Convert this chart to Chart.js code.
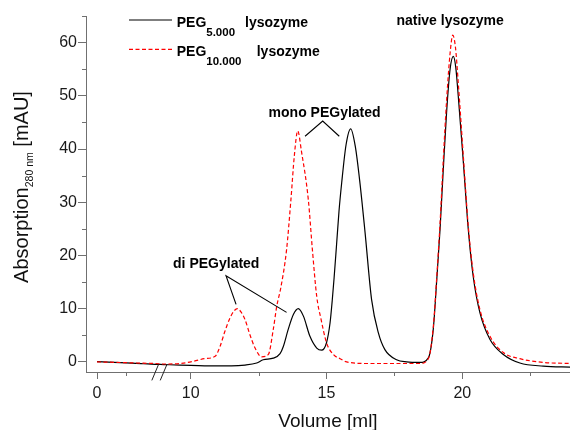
<!DOCTYPE html>
<html>
<head>
<meta charset="utf-8">
<script src="https://cdn.jsdelivr.net/npm/chart.js@4.4.0/dist/chart.umd.min.js"></script>
<style>
  body { margin: 0; background: #fff; }
  #wrap { width: 570px; height: 430px; }
</style>
</head>
<body>
<div id="wrap"><canvas id="chromChart"></canvas></div>
<script>
// elution volume [ml] / absorption [mAU]
var volPeg5 = [0, 1, 2.5, 4, 5, 9, 9.6, 10, 11, 11.5, 12, 12.43, 12.67, 13.04, 13.29, 13.41, 13.59, 13.78, 13.96, 14.15,
  14.39, 14.64, 14.82, 15.0, 15.13, 15.21, 15.28, 15.37, 15.46, 15.56, 15.72, 15.89, 16.06, 16.23, 16.42, 16.66, 16.91, 17.15, 17.58, 17.95, 18.44,
  18.75, 18.93, 19.06, 19.18, 19.3, 19.42, 19.55, 19.67, 19.76, 19.85, 20.04, 20.22, 20.4, 20.65, 21.02, 21.51, 22.12, 22.98, 24];
var absPeg5 = [0.05, -0.05, -0.2, -0.35, -0.45, -0.5, -0.6, -0.65, -0.75, -0.75, -0.6, -0.2, 0.4, 0.7, 1.55, 2.9, 6.1, 8.9, 10.0, 8.6,
  4.8, 2.6, 2.2, 3.6, 7.3, 11.5, 15.8, 22.0, 28.3, 33.7, 40.8, 43.8, 40.5, 33.7, 24.3, 11.7, 5.45, 2.3, 0.4, 0, -0.1,
  0.75, 6.1, 15.5, 24.9, 36.2, 46.8, 55, 57.4, 55.3, 50.0, 37.4, 24.9, 16.1, 9.2, 4.2, 1.4, -0.2, -0.8, -1.0];

var volPeg10 = [0, 1, 2.5, 4, 5, 9, 9.6, 10.1, 10.5, 10.9, 11.08, 11.26, 11.45, 11.6, 11.72, 11.85, 12.0, 12.18, 12.37, 12.61,
  12.86, 13.04, 13.17, 13.32, 13.53, 13.69, 13.82, 13.94, 14.08, 14.33, 14.48, 14.64, 14.8, 15.0, 15.25, 15.5, 15.74, 16.5, 17.5, 18.44,
  18.75, 18.93, 19.06, 19.18, 19.3, 19.42, 19.55, 19.65, 19.75, 19.85, 20.04, 20.22, 20.4, 20.65, 21.02, 21.51, 22.12, 22.98, 24];
var absPeg10 = [0, -0.05, -0.15, -0.25, -0.3, -0.4, -0.3, 0.1, 0.6, 1.05, 2.9, 5.75, 8.3, 9.6, 10.0, 9.4, 7.95, 5.1, 2.6, 0.95,
  1.4, 6.1, 10.5, 14.0, 21.1, 30.5, 39.0, 43.4, 39.5, 30.5, 21.1, 12.3, 8.0, 3.6, 1.4, 0.6, 0, -0.3, -0.3, -0.3,
  0.6, 6.5, 16.0, 26.0, 38.0, 49.0, 58.0, 61.4, 59.0, 52.5, 38.5, 25.5, 16.8, 9.8, 4.8, 1.75, 0.6, -0.1, -0.3];

// ticks
var xTickVolumes = [0, 10, 15, 20];
var xTickLabels = ['0', '10', '15', '20'];
var xMinorVolumes = [2.5, 12.5, 17.5, 22.5];
var yTicks = [0, 10, 20, 30, 40, 50, 60];
var yMinorTicks = [5, 15, 25, 35, 45, 55, 65];

// broken x axis: 0..5 ml squeezed in front of the 9..24 ml part
var LEFT_END = 5, RIGHT_START = 9;
var LEFT_AXIS_ZERO = 6.55, LEFT_FACTOR = 0.428;
function toAxis(v) { return v <= LEFT_END ? LEFT_AXIS_ZERO + v * LEFT_FACTOR : v; }

function points(vols, vals) {
  return vols.map(function (v, i) { return { x: toAxis(v), y: vals[i] }; });
}

// annotations (data coords)
var notes = [
  { text: 'di PEGylated', x: 10.94, y: 17.7 },
  { text: 'mono PEGylated', x: 14.93, y: 46.1 },
  { text: 'native lysozyme', x: 19.55, y: 63.4 }
];
var leaders = [
  [[11.67, 10.8], [11.3, 16.2], [13.53, 9.3]],
  [[14.21, 42.4], [14.86, 45.25], [15.47, 42.4]]
];

var AXIS_GREY = '#707070';
var FONT = 'Liberation Sans, Arial, sans-serif';

function drawParts(ctx, parts, x, y) {
  parts.forEach(function (p) {
    ctx.font = (p.bold ? 'bold ' : '') + p.size + 'px ' + FONT;
    ctx.fillText(p.t, x, y + (p.dy || 0));
    x += ctx.measureText(p.t).width;
  });
}

var decorPlugin = {
  id: 'decor',
  afterDraw: function (chart) {
    var ctx = chart.ctx, xs = chart.scales.x, ys = chart.scales.y, area = chart.chartArea;
    ctx.save();

    // minor ticks
    ctx.strokeStyle = AXIS_GREY;
    ctx.lineWidth = 1;
    ctx.beginPath();
    xMinorVolumes.forEach(function (v) {
      var px = Math.round(xs.getPixelForValue(toAxis(v))) + 0.5;
      ctx.moveTo(px, area.bottom);
      ctx.lineTo(px, area.bottom + 4);
    });
    yMinorTicks.forEach(function (v) {
      var py = Math.round(ys.getPixelForValue(v)) + 0.5;
      ctx.moveTo(area.left - 4, py);
      ctx.lineTo(area.left, py);
    });
    ctx.stroke();

    // axis break //
    var cx = (xs.getPixelForValue(toAxis(LEFT_END)) + xs.getPixelForValue(RIGHT_START)) / 2;
    ctx.strokeStyle = '#222';
    ctx.beginPath();
    [-4.2, 4.2].forEach(function (off) {
      ctx.moveTo(cx + off - 3.3, area.bottom + 8.4);
      ctx.lineTo(cx + off + 3.3, area.bottom - 7.3);
    });
    ctx.stroke();

    // leader lines + labels
    ctx.strokeStyle = '#000';
    ctx.lineWidth = 1.1;
    leaders.forEach(function (l) {
      ctx.beginPath();
      l.forEach(function (p, i) {
        var px = xs.getPixelForValue(p[0]), py = ys.getPixelForValue(p[1]);
        if (i === 0) ctx.moveTo(px, py); else ctx.lineTo(px, py);
      });
      ctx.stroke();
    });
    ctx.fillStyle = '#000';
    ctx.textAlign = 'center';
    ctx.textBaseline = 'alphabetic';
    ctx.font = 'bold 14px ' + FONT;
    notes.forEach(function (n) {
      ctx.fillText(n.text, xs.getPixelForValue(n.x), ys.getPixelForValue(n.y));
    });

    // legend
    ctx.textAlign = 'left';
    ctx.lineWidth = 1.2;
    ctx.strokeStyle = '#000';
    ctx.beginPath(); ctx.moveTo(129, 20); ctx.lineTo(172, 20); ctx.stroke();
    ctx.strokeStyle = '#ff0000';
    ctx.setLineDash([4, 2.5]);
    ctx.beginPath(); ctx.moveTo(129, 49.3); ctx.lineTo(172, 49.3); ctx.stroke();
    ctx.setLineDash([]);
    drawParts(ctx, [{ t: 'PEG', size: 14, bold: true }, { t: '5.000', size: 11.5, bold: true, dy: 9 }], 176.7, 26.7);
    drawParts(ctx, [{ t: 'lysozyme', size: 14, bold: true }], 245, 26.7);
    drawParts(ctx, [{ t: 'PEG', size: 14, bold: true }, { t: '10.000', size: 11.5, bold: true, dy: 9 }], 176.7, 56);
    drawParts(ctx, [{ t: 'lysozyme', size: 14, bold: true }], 256.7, 56);

    // axis titles
    ctx.fillStyle = '#111';
    ctx.font = '19px ' + FONT;
    ctx.textAlign = 'center';
    ctx.fillText('Volume [ml]', (area.left + area.right) / 2, 427);

    var yParts = [{ t: 'Absorption', size: 20 }, { t: '280 nm', size: 10.5, dy: 4.5 }, { t: ' [mAU]', size: 20 }];
    var total = 0;
    yParts.forEach(function (p) { ctx.font = p.size + 'px ' + FONT; total += ctx.measureText(p.t).width; });
    ctx.translate(28, (area.top + area.bottom) / 2 - 7);
    ctx.rotate(-Math.PI / 2);
    ctx.textAlign = 'left';
    drawParts(ctx, yParts, -total / 2, 0);

    ctx.restore();
  }
};

var tickFont = { family: FONT, size: 16 };

new Chart(document.getElementById('chromChart'), {
  type: 'line',
  data: {
    datasets: [{
      label: 'PEG5.000 lysozyme',
      data: points(volPeg5, absPeg5),
      borderColor: '#000',
      borderWidth: 1.2,
      pointRadius: 0,
      cubicInterpolationMode: 'monotone',
      order: 2
    }, {
      label: 'PEG10.000 lysozyme',
      data: points(volPeg10, absPeg10),
      borderColor: '#ff0000',
      borderWidth: 1.2,
      borderDash: [4, 2.5],
      pointRadius: 0,
      cubicInterpolationMode: 'monotone',
      order: 1
    }]
  },
  options: {
    responsive: true,
    maintainAspectRatio: false,
    animation: false,
    layout: { padding: { top: 16, right: 0, left: 0, bottom: 0 } },
    plugins: { legend: { display: false }, tooltip: { enabled: false } },
    scales: {
      x: {
        type: 'linear',
        min: 6.145,
        max: 23.965,
        afterBuildTicks: function (scale) {
          scale.ticks = xTickVolumes.map(function (v) { return { value: toAxis(v) }; });
        },
        afterFit: function (scale) { scale.height = 58; },
        ticks: {
          callback: function (value, index) { return xTickLabels[index]; },
          color: '#1a1a1a', font: tickFont, padding: 5, maxRotation: 0, autoSkip: false
        },
        grid: { drawOnChartArea: false, tickLength: 7, color: AXIS_GREY, tickColor: AXIS_GREY },
        border: { color: AXIS_GREY, width: 1 }
      },
      y: {
        min: -1.9,
        max: 65,
        afterBuildTicks: function (scale) {
          scale.ticks = yTicks.map(function (v) { return { value: v }; });
        },
        afterFit: function (scale) { scale.width = 86; },
        ticks: {
          callback: function (value) { return String(value); },
          color: '#1a1a1a', font: tickFont, padding: 1
        },
        grid: { drawOnChartArea: false, tickLength: 8, color: AXIS_GREY, tickColor: AXIS_GREY },
        border: { color: AXIS_GREY, width: 1 }
      }
    }
  },
  plugins: [decorPlugin]
});
</script>
</body>
</html>
